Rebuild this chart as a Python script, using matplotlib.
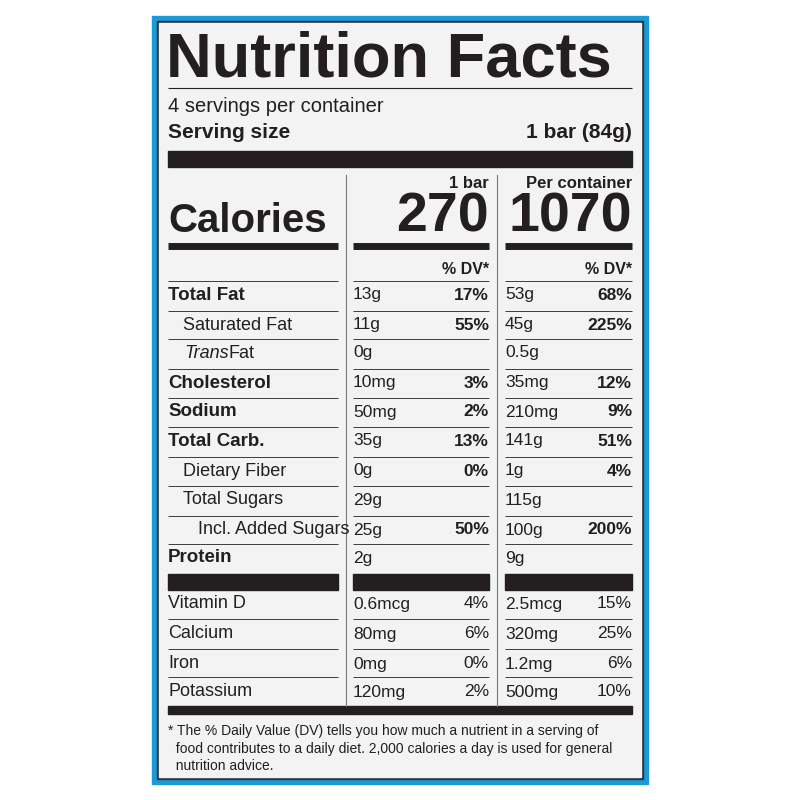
import matplotlib.pyplot as plt
from matplotlib.patches import Rectangle

servings_line = "4 servings per container"
serving_size = "1 bar (84g)"
calories = ["270", "1070"]
col_heads = ["1 bar", "Per container"]

# label, indent level, bold, per-bar amount, per-bar %DV, per-container amount, per-container %DV
nutrients = ["Total Fat", "Saturated Fat", "Trans Fat", "Cholesterol", "Sodium",
             "Total Carb.", "Dietary Fiber", "Total Sugars", "Incl. Added Sugars", "Protein"]
indent = [0, 1, 1, 0, 0, 0, 1, 1, 2, 0]
bold = [True, False, False, True, True, True, False, False, False, True]
bar_amt = ["13g", "11g", "0g", "10mg", "50mg", "35g", "0g", "29g", "25g", "2g"]
bar_dv = ["17%", "55%", "", "3%", "2%", "13%", "0%", "", "50%", ""]
cont_amt = ["53g", "45g", "0.5g", "35mg", "210mg", "141g", "1g", "115g", "100g", "9g"]
cont_dv = ["68%", "225%", "", "12%", "9%", "51%", "4%", "", "200%", ""]

vitamins = ["Vitamin D", "Calcium", "Iron", "Potassium"]
vit_bar_amt = ["0.6mcg", "80mg", "0mg", "120mg"]
vit_bar_dv = ["4%", "6%", "0%", "2%"]
vit_cont_amt = ["2.5mcg", "320mg", "1.2mg", "500mg"]
vit_cont_dv = ["15%", "25%", "6%", "10%"]

footnote = ["* The % Daily Value (DV) tells you how much a nutrient in a serving of",
            "  food contributes to a daily diet. 2,000 calories a day is used for general",
            "  nutrition advice."]

INK = "#231f20"
plt.rcParams['font.family'] = ['Liberation Sans', 'DejaVu Sans']

fig = plt.figure(figsize=(8, 8), dpi=100)
ax = fig.add_axes([0, 0, 1, 1])
ax.set_xlim(0, 800)
ax.set_ylim(800, 0)
ax.axis("off")

# frame
ax.add_patch(Rectangle((152, 16), 496, 768, color="#1b9ad6"))
ax.add_patch(Rectangle((157, 21), 486, 758, color="#2a3540"))
ax.add_patch(Rectangle((159, 23), 482, 754, color="#f3f3f3"))

L, C1, C2, R = 168, 353, 505, 632
EL, E1 = 338, 489


def hline(y, x0, x1, lw):
    ax.plot([x0, x1], [y, y], color=INK, lw=lw, solid_capstyle="butt")


def t(x, y, s, size, weight="normal", ha="left", **kw):
    ax.text(x, y, s, fontsize=size, fontweight=weight, ha=ha, va="center", color=INK, **kw)


t(L - 2, 60, "Nutrition Facts", 45.5, "heavy")
hline(88, L, R, 0.8)
t(L, 107, servings_line, 14.5)
t(L, 133, "Serving size", 15, "bold")
t(R, 133, serving_size, 15, "bold", ha="right")
ax.add_patch(Rectangle((L, 151), R - L, 16, color=INK))

# column dividers
for x in (346, 497):
    ax.plot([x, x], [175, 706], color="#777777", lw=0.8)

t(E1, 183, col_heads[0], 12, "bold", ha="right")
t(R, 183, col_heads[1], 12, "bold", ha="right")
t(L, 221, "Calories", 29, "bold")
t(E1, 217, calories[0], 40, "bold", ha="right")
t(R, 217, calories[1], 40, "bold", ha="right")
for x0, x1 in ((L, EL), (C1, E1), (C2, R)):
    hline(246, x0, x1, 5)

t(E1, 269, "% DV*", 11.5, "bold", ha="right")
t(R, 269, "% DV*", 11.5, "bold", ha="right")

row_y = [295, 325, 353, 383, 412, 441, 471, 500, 530, 558]
for i, name in enumerate(nutrients):
    y = row_y[i]
    for x0, x1 in ((L, EL), (C1, E1), (C2, R)):
        hline(y - 14.5, x0, x1, 0.6)
    w = "bold" if bold[i] else "normal"
    if name == "Trans Fat":
        ax.text(L + 16, y, "Trans", fontsize=13, style="italic", va="center", color=INK)
        t(L + 60, y, "Fat", 13)
    else:
        t(L + 15 * indent[i], y, name, 13.5 if bold[i] else 13, w)
    t(C1, y, bar_amt[i], 12.5)
    t(E1, y, bar_dv[i], 12.5, "bold", ha="right")
    t(C2, y, cont_amt[i], 12.5)
    t(R, y, cont_dv[i], 12.5, "bold", ha="right")

for x0, x1 in ((L, EL), (C1, E1), (C2, R)):
    ax.add_patch(Rectangle((x0, 574), x1 - x0, 16, color=INK))

vit_y = [604, 634, 664, 692]
for i, name in enumerate(vitamins):
    y = vit_y[i]
    if i > 0:
        for x0, x1 in ((L, EL), (C1, E1), (C2, R)):
            hline(y - 15, x0, x1, 0.6)
    t(L, y, name, 13)
    t(C1, y, vit_bar_amt[i], 12.5)
    t(E1, y, vit_bar_dv[i], 12.5, ha="right")
    t(C2, y, vit_cont_amt[i], 12.5)
    t(R, y, vit_cont_dv[i], 12.5, ha="right")

ax.add_patch(Rectangle((L, 706), R - L, 8, color=INK))
for k, line in enumerate(footnote):
    t(L, 731 + 17.5 * k, line, 10)

fig.savefig("out.png", dpi=100)
